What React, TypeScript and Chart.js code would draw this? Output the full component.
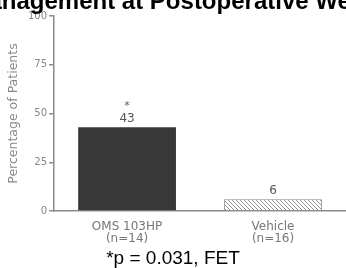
import React, { useEffect, useRef } from "react";
import { Chart, registerables } from "chart.js";

Chart.register(...registerables);

const TITLE = "Management at Postoperative Week";
const FOOTNOTE = "*p = 0.031, FET";
const Y_TITLE = "Percentage of Patients";
const categories = ["OMS 103HP", "Vehicle"];
const groupSizes = ["(n=14)", "(n=16)"];
const percentValues = [43, 6];
const significance = ["*", ""];
const yTicks = [0, 25, 50, 75, 100];

const SMALL_FONT = "'DejaVu Sans', sans-serif";
const MAIN_FONT = "'Liberation Sans', Arial, sans-serif";

function makeHatch(): CanvasPattern | string {
  const s = 4;
  const c = document.createElement("canvas");
  c.width = s;
  c.height = s;
  const x = c.getContext("2d");
  if (!x) return "#ccc";
  x.fillStyle = "#ffffff";
  x.fillRect(0, 0, s, s);
  x.strokeStyle = "#8e8e8e";
  x.lineWidth = 1;
  x.beginPath();
  x.moveTo(0, 0);
  x.lineTo(s, s);
  x.moveTo(-1, s - 1);
  x.lineTo(1, s + 1);
  x.moveTo(s - 1, -1);
  x.lineTo(s + 1, 1);
  x.stroke();
  const p = x.createPattern(c, "repeat");
  return p || "#ccc";
}

// Title drawn without Chart.js's fit-to-width compression (it overflows the canvas in the reference)
const wideTitlePlugin = {
  id: "wideTitle",
  afterDraw(chart: any) {
    const ctx = chart.ctx;
    ctx.save();
    ctx.font = `bold 24px ${MAIN_FONT}`;
    ctx.fillStyle = "#000";
    ctx.textAlign = "center";
    ctx.textBaseline = "alphabetic";
    ctx.fillText(TITLE, chart.width / 2, 9);
    ctx.restore();
  },
};

const valueLabelPlugin = {
  id: "valueLabels",
  afterDatasetsDraw(chart: any) {
    const ctx = chart.ctx;
    const meta = chart.getDatasetMeta(0);
    ctx.save();
    ctx.textAlign = "center";
    ctx.textBaseline = "middle";
    ctx.fillStyle = "#555";
    meta.data.forEach((bar: any, i: number) => {
      const v = chart.data.datasets[0].data[i];
      ctx.font = `12px ${SMALL_FONT}`;
      ctx.fillText(String(v), bar.x, bar.y - 8);
      if (significance[i]) {
        ctx.font = `11px ${SMALL_FONT}`;
        ctx.fillText(significance[i], bar.x, bar.y - 21);
      }
    });
    ctx.restore();
  },
};

export default function App() {
  const ref = useRef<HTMLCanvasElement>(null);
  useEffect(() => {
    document.body.style.margin = "0";
    const canvas = ref.current;
    if (!canvas) return;
    const hatch = makeHatch();
    const chart = new Chart(canvas, {
      type: "bar",
      data: {
        labels: categories.map((c, i) => [c, groupSizes[i]]),
        datasets: [
          {
            data: percentValues,
            backgroundColor: ["#383838", hatch as any],
            borderColor: ["#383838", "#8a8a8a"],
            borderWidth: [0, 1],
            barPercentage: 0.67,
            categoryPercentage: 1,
          },
        ],
      },
      options: {
        responsive: false,
        devicePixelRatio: 1,
        animation: false,
        layout: { padding: { left: 0, right: 0, top: 16, bottom: 0 } },
        plugins: {
          legend: { display: false },
          tooltip: { enabled: false },
          title: { display: false },
          subtitle: {
            display: true,
            position: "bottom",
            text: FOOTNOTE,
            color: "#000",
            font: { family: MAIN_FONT, size: 19, weight: "normal", lineHeight: 1.0 },
            padding: { top: 0, bottom: 0 },
          },
        },
        scales: {
          x: {
            grid: { display: false, drawTicks: false },
            border: { display: true, color: "#8c8c8c", width: 1.5 },
            ticks: {
              color: "#777",
              font: { family: SMALL_FONT, size: 12, lineHeight: 1.0 },
              padding: 10,
            },
            afterFit: (scale: any) => {
              scale.height = 38;
            },
          },
          y: {
            min: 0,
            max: 100,
            afterBuildTicks: (scale: any) => {
              scale.ticks = yTicks.map((v) => ({ value: v }));
            },
            grid: {
              display: true,
              drawOnChartArea: false,
              drawTicks: true,
              tickLength: 5,
              color: "#8c8c8c",
              lineWidth: 1.5,
            },
            border: { display: true, color: "#8c8c8c", width: 1.5 },
            ticks: {
              color: "#888",
              font: { family: SMALL_FONT, size: 10 },
              padding: 2,
            },
            title: {
              display: true,
              text: Y_TITLE,
              color: "#888",
              font: { family: SMALL_FONT, size: 12.5 },
              padding: { top: 6, bottom: 5 },
            },
          },
        },
      },
      plugins: [valueLabelPlugin, wideTitlePlugin],
    });
    return () => chart.destroy();
  }, []);
  return (
    <div style={{ width: 346, height: 268 }}>
      <canvas ref={ref} width={346} height={268} style={{ display: "block" }} />
    </div>
  );
}
